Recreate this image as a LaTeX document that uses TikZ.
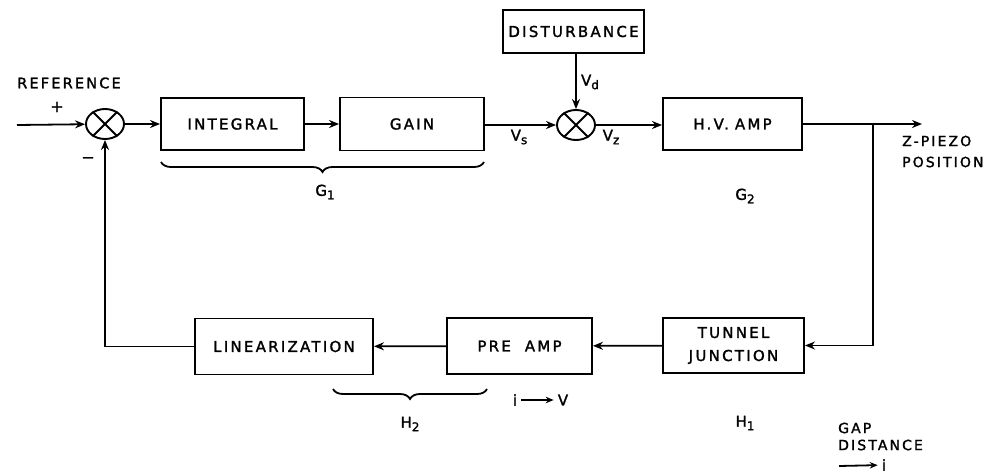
\documentclass[tikz,border=0pt]{standalone}
\usepackage{fontspec}
\newfontfamily\lbl[LetterSpace=15,FakeBold=1.6]{DejaVu Sans}
\usetikzlibrary{arrows.meta,decorations.pathreplacing,shapes.geometric}
\newcommand\subsc[2]{#1\raisebox{-3.5pt}{\fontsize{12}{12}\selectfont #2}}
\begin{document}
\begin{tikzpicture}[x=1pt,y=-1pt,
  box/.style={draw, line width=1.9pt, inner sep=0pt, align=center,
    font=\lbl\fontsize{15}{18}\selectfont},
  sumnode/.style={draw, ellipse, line width=1.9pt, minimum width=38pt,
    minimum height=30pt, inner sep=0pt},
  conn/.style={line width=1.8pt},
  arr/.style={conn, -{Stealth[length=10pt,width=8pt]}},
  smallarr/.style={conn, -{Stealth[length=8pt,width=6.5pt]}, shorten >=4pt, shorten <=4pt},
  lab/.style={font=\lbl\fontsize{15}{18}\selectfont, inner sep=0pt},
  brc/.style={conn, decorate, decoration={brace, mirror, amplitude=10pt}}]
\useasboundingbox (0,0) rectangle (992,474);

% top row
\node[sumnode] (s1) at (105,124) {};
\draw[conn] (s1.45) -- (s1.225) (s1.135) -- (s1.315);
\node[box, minimum width=143pt, minimum height=52pt] (int) at (232.5,124) {INTEGRAL};
\node[box, minimum width=144pt, minimum height=53pt] (gain) at (412,124) {GAIN};
\node[box, minimum width=141pt, minimum height=43pt] (dist) at (573.5,31.5) {DISTURBANCE};
\node[sumnode] (s2) at (576,125) {};
\draw[conn] (s2.45) -- (s2.225) (s2.135) -- (s2.315);
\node[box, minimum width=139pt, minimum height=52pt] (hv) at (732.5,124) {H.V.\hspace{6pt}AMP};

% bottom row
\node[box, minimum width=141pt, minimum height=55pt] (tun) at (733.5,345.5) {TUNNEL\\[5pt]JUNCTION};
\node[box, minimum width=145pt, minimum height=56pt] (pre) at (519.5,346) {PRE\hspace{14pt}AMP};
\node[box, minimum width=178pt, minimum height=56pt] (lin) at (284,346.5) {LINEARIZATION};

% connectors
\coordinate (in) at (17,125);
\coordinate (out) at (922,124);
\coordinate (br) at (873,124);
\draw[arr] (in) -- (s1);
\draw[arr] (s1) -- (int);
\draw[arr] (int) -- (gain);
\draw[arr] (gain.east |- s2) -- (s2);
\draw[arr] (s2 |- dist.south) -- (s2);
\draw[arr] (s2) -- (hv.west |- s2);
\draw[arr] (hv) -- (out);
\draw[arr] (br) |- (tun.east);
\draw[arr] (tun) -- (pre);
\draw[arr] (pre) -- (lin);
\draw[arr] (lin) -| (s1);

% labels
\node[lab, font=\lbl\fontsize{14.5}{17}\selectfont] (ref) at (69,83) {REFERENCE};
\node[lab, font=\lbl\fontsize{16}{16}\selectfont] (plus) at (57,107) {+};
\node[lab, font=\lbl\fontsize{16}{16}\selectfont] (minus) at (88,160) {−};
\node[lab] (vd) at (590,82) {\subsc{V}{d}};
\node[lab] (vs) at (519,137) {\subsc{V}{s}};
\node[lab] (vz) at (611,137) {\subsc{V}{z}};
\node[lab, anchor=west, font=\lbl\fontsize{14}{17}\selectfont] (zp) at (902,141) {Z-PIEZO};
\node[lab, anchor=west, font=\lbl\fontsize{14}{17}\selectfont] (pos) at (902,162) {POSITION};
\node[lab] (g1) at (325,192) {\subsc{G}{1}};
\node[lab] (g2) at (745,196) {\subsc{G}{2}};
\node[lab] (h2) at (410,424) {\subsc{H}{2}};
\node[lab] (h1) at (745,423) {\subsc{H}{1}};

% braces
\draw[brc] (161,162) -- (484,162);
\draw[brc] (333,389) -- (487,389);

% i -> V
\node[lab] (ii) at (515,400) {i};
\node[lab] (vv) at (563,400) {V};
\draw[smallarr] (ii) -- (vv);

% gap distance
\node[lab, anchor=west, font=\lbl\fontsize{14}{17}\selectfont] (gap) at (838,428) {GAP};
\node[lab, anchor=west, font=\lbl\fontsize{14}{17}\selectfont] (gd) at (838,445) {DISTANCE};
\coordinate (ga) at (839,466);
\node[lab] (gi) at (884,465) {i};
\draw[smallarr, shorten <=0pt] (ga) -- (gi);
\end{tikzpicture}
\end{document}
